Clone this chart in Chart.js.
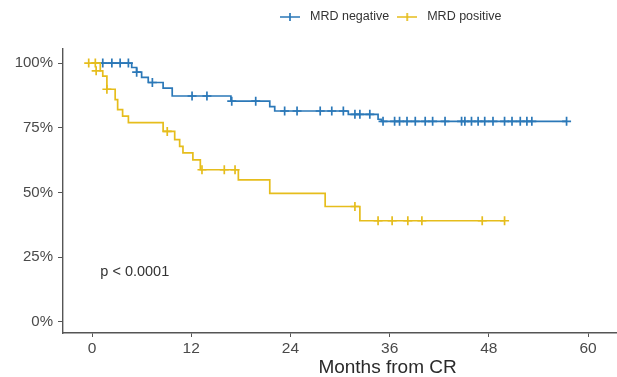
<!DOCTYPE html>
<html>
<head>
<meta charset="utf-8">
<script src="https://cdn.jsdelivr.net/npm/chart.js@4.4.1/dist/chart.umd.min.js"></script>
<style>
  html, body { margin: 0; padding: 0; background: #fff; overflow: hidden; }
  #km { display: block; }
</style>
</head>
<body>
<canvas id="km" width="617" height="377"></canvas>
<script>
// Kaplan–Meier estimates: time (months from CR) and survival (%) at each step
const negTimes = [0, 4.8, 5.4, 6.0, 6.8, 8.6, 9.7, 16.8, 21.5, 22.1, 31.0, 34.6, 35.0, 57.4];
const negSurv  = [100, 98.3, 96.5, 94.5, 92.5, 90.3, 87.3, 85.3, 83.2, 81.5, 80.2, 78.3, 77.5, 77.5];
const posTimes = [0, 1.0, 1.3, 1.8, 2.8, 3.1, 3.7, 4.4, 8.6, 10.0, 10.6, 11.0, 12.2, 13.1, 17.7, 21.5, 28.2, 32.4, 49.9];
const posSurv  = [100, 97, 95, 89.9, 85.9, 82, 79.5, 77, 73.6, 70.4, 67.8, 65.3, 62.6, 58.8, 54.9, 49.7, 44.6, 39.1, 39.1];

// Censored observations
const negCensTimes = [1.3, 2.4, 3.4, 4.4, 5.4, 7.3, 12.1, 13.9, 16.9, 19.8, 23.3, 24.8, 27.6, 29.0, 30.4, 31.8, 32.4, 33.6,
  35.2, 36.6, 37.2, 38.1, 39.1, 40.3, 41.2, 42.7, 44.7, 45.1, 45.9, 46.7, 47.5, 48.5, 49.9, 50.8, 51.8, 52.6, 53.2, 57.4];
const negCensSurv  = [100, 100, 100, 100, 96.5, 92.5, 87.3, 87.3, 85.3, 85.3, 81.5, 81.5, 81.5, 81.5, 81.5, 80.2, 80.2, 80.2,
  77.5, 77.5, 77.5, 77.5, 77.5, 77.5, 77.5, 77.5, 77.5, 77.5, 77.5, 77.5, 77.5, 77.5, 77.5, 77.5, 77.5, 77.5, 77.5, 77.5];
const posCensTimes = [-0.4, 0.4, 0.5, 1.8, 9.1, 13.3, 16.0, 17.3, 31.8, 34.6, 36.3, 38.2, 39.9, 47.2, 49.9];
const posCensSurv  = [100, 100, 97, 89.9, 73.6, 58.8, 58.8, 58.8, 44.6, 39.1, 39.1, 39.1, 39.1, 39.1, 39.1];

const groupLabels = ['MRD negative', 'MRD positive'];
const xTicks = [0, 12, 24, 36, 48, 60];
const yTicks = [0, 25, 50, 75, 100];
const pValueText = 'p < 0.0001';
const xTitle = 'Months from CR';

const X_MIN = -3.51, X_MAX = 63.5;
// the panel itself continues to 75 months beyond the canvas edge; the axis title is centred on it
const PANEL_END = 75;

const BLUE = '#2b78b8';
const GOLD = '#e6bd1c';
const FONT = '"Liberation Sans", Arial, sans-serif';

const pts = (xs, ys) => xs.map((x, i) => ({ x: x, y: ys[i] }));

// Legend symbol: short line with a cross through it
function legendSymbol(color) {
  const c = document.createElement('canvas');
  c.width = 20; c.height = 10;
  const g = c.getContext('2d');
  g.strokeStyle = color; g.lineWidth = 1.7;
  g.beginPath();
  g.moveTo(0, 5); g.lineTo(20, 5);
  g.moveTo(10, 1); g.lineTo(10, 9);
  g.stroke();
  return c;
}

// Legend row above the panel
const legendPlugin = {
  id: 'kmLegend',
  afterDraw(chart) {
    const ctx = chart.ctx;
    ctx.save();
    ctx.font = '12.5px ' + FONT;
    ctx.fillStyle = '#333';
    ctx.textBaseline = 'middle';
    const y = 17;
    let x = 280;
    [BLUE, GOLD].forEach((col, i) => {
      ctx.drawImage(legendSymbol(col), x, y - 5);
      ctx.fillText(groupLabels[i], x + 30, y);
      x += 30 + ctx.measureText(groupLabels[i]).width + 8;
    });
    ctx.restore();
  }
};

// Log-rank p-value inside the panel, and the x-axis title
const textPlugin = {
  id: 'kmText',
  afterDatasetsDraw(chart) {
    const xs = chart.scales.x, ys = chart.scales.y;
    const ctx = chart.ctx;
    ctx.save();
    ctx.font = '14.5px ' + FONT;
    ctx.fillStyle = '#333';
    ctx.textBaseline = 'middle';
    ctx.fillText(pValueText, xs.getPixelForValue(1), ys.getPixelForValue(19.3));
    ctx.font = '19px ' + FONT;
    ctx.fillStyle = '#2a2a2a';
    ctx.textAlign = 'center';
    ctx.fillText(xTitle, xs.getPixelForValue((X_MIN + PANEL_END) / 2), 368);
    ctx.restore();
  }
};

new Chart(document.getElementById('km'), {
  type: 'scatter',
  data: {
    datasets: [
      { label: groupLabels[0], data: pts(negTimes, negSurv), showLine: true, stepped: 'before',
        borderColor: BLUE, borderWidth: 1.7, pointRadius: 0, fill: false, order: 2 },
      { label: groupLabels[1], data: pts(posTimes, posSurv), showLine: true, stepped: 'before',
        borderColor: GOLD, borderWidth: 1.7, pointRadius: 0, fill: false, order: 1 },
      { label: groupLabels[0] + ' censored', data: pts(negCensTimes, negCensSurv), showLine: false,
        pointStyle: 'cross', pointRadius: 4.5, borderColor: BLUE, borderWidth: 1.7, order: 2 },
      { label: groupLabels[1] + ' censored', data: pts(posCensTimes, posCensSurv), showLine: false,
        pointStyle: 'cross', pointRadius: 4.5, borderColor: GOLD, borderWidth: 1.7, order: 1 }
    ]
  },
  options: {
    responsive: false,
    animation: false,
    devicePixelRatio: 1,
    layout: { autoPadding: false, padding: { top: 49, right: 0, left: 0, bottom: 0 } },
    plugins: { legend: { display: false }, tooltip: { enabled: false } },
    scales: {
      x: {
        type: 'linear', min: X_MIN, max: X_MAX,
        afterBuildTicks: s => { s.ticks = xTicks.map(v => ({ value: v })); },
        afterFit: s => { s.height = 44; s.paddingLeft = 0; s.paddingRight = 0; },
        grid: { drawOnChartArea: false, drawTicks: true, tickLength: 4, color: '#555', tickWidth: 1 },
        border: { display: true, color: '#555', width: 1.4 },
        ticks: { color: '#4a4a4a', font: { family: FONT, size: 15.5 }, padding: 2, maxRotation: 0 }
      },
      y: {
        type: 'linear', min: -4.28, max: 105.45,
        afterBuildTicks: s => { s.ticks = yTicks.map(v => ({ value: v })); },
        afterFit: s => { s.width = 63; s.paddingTop = 0; s.paddingBottom = 0; },
        grid: { drawOnChartArea: false, drawTicks: true, tickLength: 5, color: '#555', tickWidth: 1 },
        border: { display: true, color: '#555', width: 1.4 },
        ticks: { color: '#4a4a4a', font: { family: FONT, size: 15 }, padding: 5, callback: v => v + '%' }
      }
    }
  },
  plugins: [legendPlugin, textPlugin]
});
</script>
</body>
</html>
